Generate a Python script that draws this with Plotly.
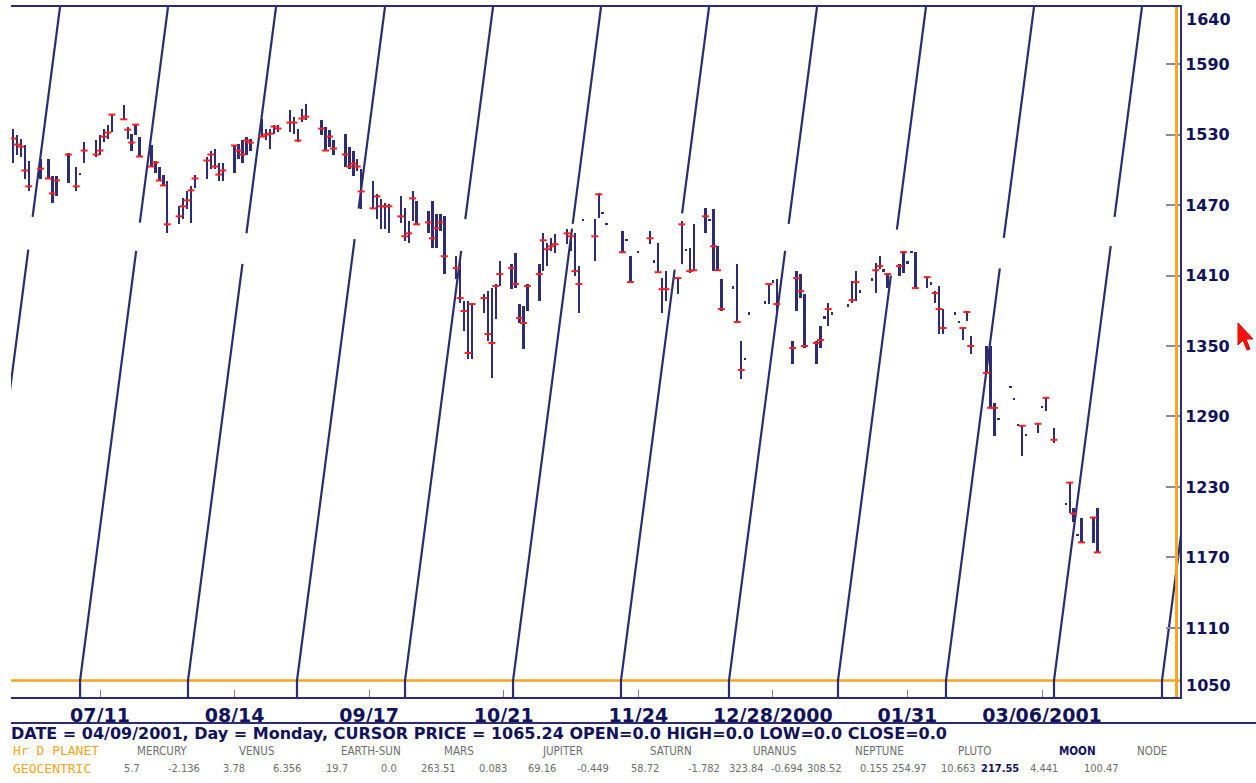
import pandas as pd
import plotly.graph_objects as go

# ---------------- data ----------------
bar_dates = [
    "2000-06-19", "2000-06-20", "2000-06-21", "2000-06-22", "2000-06-23",
    "2000-06-26", "2000-06-28", "2000-06-29", "2000-06-30",
    "2000-07-03", "2000-07-05", "2000-07-06", "2000-07-07",
    "2000-07-10", "2000-07-11", "2000-07-12", "2000-07-13", "2000-07-14",
    "2000-07-17", "2000-07-18", "2000-07-19", "2000-07-20", "2000-07-21",
    "2000-07-24", "2000-07-25", "2000-07-26", "2000-07-27", "2000-07-28",
    "2000-07-31", "2000-08-01", "2000-08-02", "2000-08-03", "2000-08-04",
    "2000-08-07", "2000-08-08", "2000-08-09", "2000-08-10", "2000-08-11",
    "2000-08-14", "2000-08-15", "2000-08-16", "2000-08-17", "2000-08-18",
    "2000-08-21", "2000-08-22", "2000-08-23", "2000-08-24", "2000-08-25",
    "2000-08-28", "2000-08-29", "2000-08-30", "2000-08-31", "2000-09-01",
    "2000-09-05", "2000-09-06", "2000-09-07", "2000-09-08",
    "2000-09-11", "2000-09-12", "2000-09-13", "2000-09-14", "2000-09-15",
    "2000-09-18", "2000-09-19", "2000-09-20", "2000-09-21", "2000-09-22",
    "2000-09-25", "2000-09-26", "2000-09-27", "2000-09-28", "2000-09-29",
    "2000-10-02", "2000-10-03", "2000-10-04", "2000-10-05", "2000-10-06",
    "2000-10-09", "2000-10-10", "2000-10-11", "2000-10-12", "2000-10-13",
    "2000-10-16", "2000-10-17", "2000-10-18", "2000-10-19", "2000-10-20",
    "2000-10-23", "2000-10-24", "2000-10-25", "2000-10-26", "2000-10-27",
    "2000-10-30", "2000-10-31", "2000-11-01", "2000-11-02", "2000-11-03",
    "2000-11-06", "2000-11-07", "2000-11-08", "2000-11-09", "2000-11-10",
    "2000-11-13", "2000-11-14", "2000-11-15", "2000-11-16",
    "2000-11-20", "2000-11-21", "2000-11-22", "2000-11-24",
    "2000-11-27", "2000-11-28", "2000-11-29", "2000-11-30", "2000-12-01",
    "2000-12-04", "2000-12-05", "2000-12-06", "2000-12-07", "2000-12-08",
    "2000-12-11", "2000-12-12", "2000-12-13", "2000-12-14", "2000-12-15",
    "2000-12-18", "2000-12-19", "2000-12-20", "2000-12-21", "2000-12-22",
    "2000-12-26", "2000-12-27", "2000-12-28", "2000-12-29",
    "2001-01-02", "2001-01-03", "2001-01-04", "2001-01-05",
    "2001-01-08", "2001-01-09", "2001-01-10", "2001-01-11", "2001-01-12",
    "2001-01-16", "2001-01-17", "2001-01-18", "2001-01-19",
    "2001-01-22", "2001-01-23", "2001-01-24", "2001-01-25", "2001-01-26",
    "2001-01-29", "2001-01-30", "2001-01-31", "2001-02-01", "2001-02-02",
    "2001-02-05", "2001-02-06", "2001-02-07", "2001-02-08", "2001-02-09",
    "2001-02-12", "2001-02-13", "2001-02-14", "2001-02-15", "2001-02-16",
    "2001-02-20", "2001-02-21", "2001-02-22", "2001-02-23",
    "2001-02-26", "2001-02-27", "2001-02-28", "2001-03-01", "2001-03-02",
    "2001-03-05", "2001-03-06", "2001-03-07", "2001-03-09",
    "2001-03-12", "2001-03-13", "2001-03-14", "2001-03-15", "2001-03-16",
    "2001-03-19", "2001-03-20",
]
bar_high = [
    1535.1, 1530.0, 1526.6, 1521.5, 1507.1,
    1509.6, 1508.8, 1494.4, 1494.4,
    1513.9, 1502.0, 1497.5, 1524.0,
    1525.7, 1530.0, 1535.1, 1538.5, 1547.8,
    1555.5, 1536.8, 1530.8, 1539.3, 1528.3,
    1521.5, 1507.1, 1502.8, 1496.0, 1490.1,
    1468.9, 1475.7, 1481.6, 1485.9, 1496.0,
    1511.3, 1515.6, 1518.1, 1505.4, 1505.4,
    1521.5, 1522.3, 1525.7, 1528.3, 1526.6,
    1543.6, 1535.1, 1535.1, 1538.5, 1538.5,
    1551.2, 1545.3, 1535.1, 1552.1, 1556.3,
    1542.7, 1536.8, 1534.2, 1525.7,
    1530.8, 1519.8, 1515.6, 1509.6, 1501.1,
    1490.1, 1479.1, 1474.8, 1471.4, 1470.6,
    1477.4, 1467.2, 1456.1, 1481.6, 1473.1,
    1464.6, 1473.1, 1462.1, 1462.1, 1460.4,
    1426.4, 1424.7, 1388.2, 1388.2, 1386.5,
    1394.2, 1396.7, 1399.3, 1402.7, 1422.2,
    1419.6, 1429.0, 1385.7, 1384.0, 1402.7,
    1419.6, 1446.0, 1437.5, 1441.7, 1445.1,
    1449.3, 1445.1, 1445.9, 1417.9, 1458.5,
    1457.8, 1479.9, 1464.4, 1455.1,
    1447.7, 1441.5, 1426.4, 1431.3,
    1447.7, 1422.8, 1437.5, 1407.8, 1413.7,
    1407.8, 1456.1, 1433.0, 1433.2, 1453.6,
    1467.2, 1458.5, 1466.3, 1434.9, 1406.9,
    1400.8, 1419.6, 1354.3, 1339.6, 1378.7,
    1388.0, 1402.7, 1405.9, 1406.9,
    1354.3, 1413.7, 1411.2, 1394.2,
    1354.3, 1367.0, 1375.3, 1386.5, 1378.7,
    1385.5, 1405.2, 1413.7, 1397.4,
    1407.6, 1420.5, 1426.4, 1415.2, 1412.0,
    1419.6, 1430.7, 1422.0, 1431.3, 1429.8,
    1409.5, 1404.2, 1396.7, 1401.0, 1381.4,
    1378.7, 1371.1, 1365.3, 1379.8, 1358.5,
    1350.0, 1350.0, 1301.6, 1288.7,
    1315.9, 1305.7, 1283.6, 1282.1, 1275.1,
    1283.8, 1298.9, 1305.9, 1280.4,
    1216.5, 1233.7, 1211.7, 1190.2, 1203.2,
    1204.0, 1212.5,
]
bar_low = [
    1505.4, 1513.0, 1511.3, 1491.8, 1481.6,
    1491.8, 1491.8, 1471.4, 1477.4,
    1488.4, 1481.6, 1496.0, 1505.4,
    1511.3, 1513.0, 1524.0, 1526.6, 1532.5,
    1542.7, 1526.6, 1515.6, 1530.0, 1511.3,
    1502.8, 1496.9, 1490.1, 1485.9, 1446.0,
    1453.6, 1457.8, 1466.3, 1454.4, 1484.2,
    1492.6, 1501.1, 1501.1, 1490.1, 1490.1,
    1497.7, 1509.6, 1505.4, 1513.0, 1515.6,
    1528.3, 1525.7, 1517.3, 1530.8, 1532.5,
    1532.5, 1530.8, 1524.0, 1541.0, 1542.7,
    1530.0, 1515.6, 1519.8, 1513.0,
    1502.8, 1501.1, 1494.4, 1498.6, 1466.3,
    1467.2, 1457.8, 1449.3, 1449.3, 1445.9,
    1454.4, 1439.2, 1437.5, 1456.1, 1453.6,
    1445.9, 1433.2, 1433.2, 1447.7, 1411.2,
    1406.9, 1386.5, 1362.8, 1339.0, 1339.0,
    1378.0, 1354.3, 1322.9, 1372.9, 1401.0,
    1398.4, 1399.3, 1369.6, 1347.5, 1379.8,
    1388.2, 1413.7, 1417.9, 1430.7, 1429.0,
    1436.6, 1430.7, 1409.5, 1378.0, 1457.0,
    1422.2, 1458.7, 1462.9, 1453.6,
    1428.9, 1440.0, 1403.5, 1429.8,
    1436.6, 1421.3, 1412.0, 1378.0, 1388.2,
    1394.2, 1419.6, 1431.5, 1412.0, 1413.7,
    1446.0, 1457.0, 1413.7, 1413.7, 1379.8,
    1399.3, 1369.6, 1322.0, 1338.1, 1377.2,
    1386.5, 1385.7, 1404.4, 1377.2,
    1334.7, 1379.8, 1390.8, 1348.3,
    1334.7, 1348.3, 1373.8, 1367.0, 1377.2,
    1384.0, 1386.5, 1388.2, 1395.9,
    1406.1, 1395.0, 1415.4, 1413.7, 1399.3,
    1409.5, 1412.0, 1420.5, 1429.8, 1399.3,
    1399.3, 1402.7, 1386.5, 1360.2, 1360.2,
    1377.2, 1369.6, 1355.1, 1371.3, 1343.2,
    1327.1, 1297.4, 1273.6, 1287.2,
    1314.4, 1304.2, 1282.1, 1256.6, 1273.6,
    1276.2, 1297.4, 1294.9, 1267.7,
    1215.0, 1208.2, 1199.8, 1188.7, 1181.9,
    1181.9, 1174.3,
]
bar_close = [
    1526.6, 1521.5, 1519.8, 1499.4, 1485.9,
    1501.0, 1492.6, 1479.9, 1490.9,
    1513.0, 1485.9, None, 1516.4,
    1513.0, 1516.4, 1528.3, 1531.7, 1547.0,
    1543.0, 1534.2, 1523.2, 1538.5, 1511.3,
    1502.8, 1506.2, 1490.9, 1486.7, 1453.6,
    1460.4, 1468.9, 1474.0, 1482.5, 1492.6,
    1507.9, 1513.0, 1502.8, 1496.0, 1499.4,
    1520.7, 1516.4, 1513.0, 1524.9, 1523.2,
    1528.3, 1530.0, 1530.8, 1536.8, 1535.1,
    1540.2, 1540.2, 1524.9, 1543.6, 1545.3,
    1535.1, 1516.4, 1528.3, 1518.1,
    1513.0, 1502.8, 1505.4, 1502.8, 1481.6,
    1467.2, 1477.4, 1468.9, 1468.9, 1468.9,
    1460.4, 1443.4, 1445.9, 1475.7, 1453.6,
    1455.3, 1441.7, 1450.2, 1455.3, 1426.4,
    1416.3, 1390.8, 1379.8, 1344.1, 1385.7,
    1390.8, 1360.2, 1352.6, 1401.0, 1411.2,
    1416.3, 1402.7, 1373.8, 1369.6, 1401.0,
    1411.2, 1440.0, 1432.4, 1434.9, 1436.6,
    1445.9, 1443.4, 1413.7, 1402.7, None,
    1443.4, 1479.1, None, None,
    1429.8, None, 1404.4, None,
    1441.7, None, 1412.8, 1398.4, 1398.4,
    1407.8, 1453.6, None, 1413.7, 1414.5,
    1460.4, None, 1434.9, 1414.5, 1381.4,
    None, 1370.4, 1329.6, None, None,
    None, 1402.7, None, 1385.7,
    1348.3, 1407.8, 1396.7, 1350.0,
    1352.6, 1355.1, None, 1381.4, None,
    None, 1389.1, 1404.4, None,
    None, 1414.5, 1418.0, None, 1411.2,
    1418.0, 1429.8, None, None, 1399.3,
    1408.6, None, 1395.0, 1381.4, 1365.3,
    None, None, 1365.3, 1378.9, 1350.0,
    1327.1, 1297.4, 1297.4, None,
    None, None, None, 1282.1, None,
    1283.8, None, 1305.9, 1270.2,
    None, 1233.7, 1207.4, None, 1182.8,
    1204.0, 1174.3,
]

# Moon lines: date where each line meets the cursor price, and where it meets the top
moon_bottom_dates = [
    "2000-06-08 16:00", "2000-07-05 23:00", "2000-08-02 05:30", "2000-08-29 18:30",
    "2000-09-26 01:30", "2000-10-23 08:30", "2000-11-19 15:00", "2000-12-16 22:00",
    "2001-01-13 11:00", "2001-02-09 17:45", "2001-03-09 00:45", "2001-04-05 07:40",
]
moon_top_dates = [
    "2000-06-30 21:20", "2000-07-28 04:20", "2000-08-24 11:20", "2000-09-21 00:00",
    "2000-10-18 07:00", "2000-11-14 14:00", "2000-12-11 21:00", "2001-01-08 03:40",
    "2001-02-04 16:30", "2001-03-03 23:30", "2001-03-31 06:15", "2001-04-27 13:00",
]
moon_gap_low = [1432, 1431, 1420, 1441, 1431, 1450, 1415, 1431, 1410, 1416, 1435, 1435]
moon_gap_high = [1460, 1455, 1446, 1467, 1458, 1454, 1463, 1454, 1449, 1442, 1460, 1460]

price_ticks = [1590, 1530, 1470, 1410, 1350, 1290, 1230, 1170, 1110]
edge_price_labels = ["1640", "1050"]
date_ticks = ["2000-07-11", "2000-08-14", "2000-09-17", "2000-10-21",
              "2000-11-24", "2000-12-28", "2001-01-31", "2001-03-06"]
date_tick_text = ["07/11", "08/14", "09/17", "10/21", "11/24", "12/28/2000", "01/31", "03/06/2001"]

cursor_date = "2001-04-09"
cursor_price = 1065.24
x_range = ["2000-06-18 12:14", "2001-04-09 20:50"]
y_range = [1051.2, 1638.6]

status_text = ("DATE = 04/09/2001, Day = Monday, CURSOR PRICE = 1065.24 "
               "OPEN=0.0 HIGH=0.0 LOW=0.0 CLOSE=0.0")
planet_names = ["MERCURY", "VENUS", "EARTH-SUN", "MARS", "JUPITER", "SATURN",
                "URANUS", "NEPTUNE", "PLUTO", "MOON", "NODE"]
planet_values = ["5.7", "-2.136", "3.78", "6.356", "19.7", "0.0", "263.51", "0.083",
                 "69.16", "-0.449", "58.72", "-1.782", "323.84", "-0.694", "308.52",
                 "0.155", "254.97", "10.663", "217.55", "4.441", "100.47"]

# ---------------- styling / layout positions ----------------
NAVY = "#2c2c6e"
TEXT_NAVY = "#12125a"
RED = "#ff2020"
ORANGE = "#f5a623"
GRAY = "#6e6e6e"
FIG_W, FIG_H = 1256, 783
L, R, T, B = 11, 76, 5, 86
PW, PH = FIG_W - L - R, FIG_H - T - B

def px_x(px):
    return (px - L) / PW

def px_y(py):
    return (FIG_H - B - py) / PH

name_px = [135, 237, 339, 442, 540, 648, 751, 853, 956, 1057, 1135]
value_px = [122, 166, 221, 271, 324, 379, 419, 477, 526, 575, 629, 686, 727, 769,
            805, 858, 890, 939, 979, 1028, 1082]
edge_label_py = [18, 685]

fig = go.Figure()

# moon lines
lx, ly = [], []
for d0, d1, glo, ghi in zip(moon_bottom_dates, moon_top_dates, moon_gap_low, moon_gap_high):
    t0, t1 = pd.Timestamp(d0), pd.Timestamp(d1)
    def at(p, t0=t0, t1=t1):
        return t0 + (t1 - t0) * ((p - cursor_price) / (y_range[1] - cursor_price))
    pts = [(t0, y_range[0]), (t0, cursor_price), (at(glo), glo), None,
           (at(ghi), ghi), (t1, y_range[1]), None]
    for p in pts:
        if p is None:
            lx.append(None); ly.append(None)
        else:
            lx.append(p[0].strftime("%Y-%m-%d %H:%M:%S")); ly.append(p[1])
fig.add_trace(go.Scatter(x=lx, y=ly, mode="lines", line=dict(color=NAVY, width=2.2),
                         hoverinfo="skip", connectgaps=False))

# price bars
heights = [h - l for h, l in zip(bar_high, bar_low)]
fig.add_trace(go.Bar(x=bar_dates, y=heights, base=bar_low,
                     width=[0.6 * 86400000] * len(bar_dates),
                     marker=dict(color=NAVY, line=dict(width=0))))

# close ticks
cd = [d for d, c in zip(bar_dates, bar_close) if c is not None]
cv = [c for c in bar_close if c is not None]
fig.add_trace(go.Scatter(x=cd, y=cv, mode="markers",
                         marker=dict(symbol="line-ew", size=5,
                                     line=dict(color=RED, width=2))))

shapes = [
    dict(type="line", xref="paper", yref="y", x0=0, x1=1, y0=cursor_price, y1=cursor_price,
         line=dict(color=ORANGE, width=2.5), layer="below"),
    dict(type="line", xref="x", yref="paper", x0=cursor_date, x1=cursor_date, y0=0, y1=1,
         line=dict(color=ORANGE, width=3), layer="above"),
    dict(type="line", xref="paper", yref="paper", x0=px_x(11), x1=px_x(1256),
         y0=px_y(723), y1=px_y(723), line=dict(color=NAVY, width=2)),
]
# mouse pointer
tip = (1238, 322)
arrow = [(0, 0), (0, 22), (5, 17), (9, 27), (12, 26), (8, 16), (15, 16)]
path = "M " + " L ".join(f"{px_x(tip[0] + dx):.5f},{px_y(tip[1] + dy):.5f}" for dx, dy in arrow) + " Z"
shapes.append(dict(type="path", xref="paper", yref="paper", path=path,
                   fillcolor="#ff1010", line=dict(color="#e00000", width=1)))

ann = []
for txt, py in zip(edge_price_labels, edge_label_py):
    ann.append(dict(x=px_x(1184), y=px_y(py), xref="paper", yref="paper", xanchor="left",
                    yanchor="middle", text=txt, showarrow=False,
                    font=dict(family="DejaVu Sans", size=16, color=TEXT_NAVY, weight="bold")))
ann.append(dict(x=px_x(9), y=px_y(734), xref="paper", yref="paper", xanchor="left",
                yanchor="middle", text=status_text, showarrow=False,
                font=dict(family="DejaVu Sans", size=16, color=TEXT_NAVY, weight="bold")))
mono = "DejaVu Sans Mono"
cond = "DejaVu Sans Condensed, Liberation Sans Narrow, DejaVu Sans, sans-serif"
ann.append(dict(x=px_x(11), y=px_y(751), xref="paper", yref="paper", xanchor="left",
                yanchor="middle", text="Hr D PLANET", showarrow=False,
                font=dict(family=mono, size=13, color=ORANGE)))
ann.append(dict(x=px_x(11), y=px_y(769), xref="paper", yref="paper", xanchor="left",
                yanchor="middle", text="GEOCENTRIC", showarrow=False,
                font=dict(family=mono, size=13, color=ORANGE)))
for name, px in zip(planet_names, name_px):
    moon = name == "MOON"
    ann.append(dict(x=px_x(px), y=px_y(751), xref="paper", yref="paper", xanchor="left",
                    yanchor="middle", text=name, showarrow=False,
                    font=dict(family=cond, size=11.5, color=TEXT_NAVY if moon else GRAY,
                              weight="bold" if moon else "normal")))
for i, (val, px) in enumerate(zip(planet_values, value_px)):
    moon = i == 18
    ann.append(dict(x=px_x(px), y=px_y(769), xref="paper", yref="paper", xanchor="left",
                    yanchor="middle", text=val, showarrow=False,
                    font=dict(family=cond, size=11, color=TEXT_NAVY if moon else GRAY,
                              weight="bold" if moon else "normal")))

fig.update_layout(
    width=FIG_W, height=FIG_H,
    margin=dict(l=L, r=R, t=T, b=B),
    paper_bgcolor="white", plot_bgcolor="white",
    showlegend=False, bargap=0,
    shapes=shapes, annotations=ann,
    xaxis=dict(type="date", range=x_range, tickvals=date_ticks, ticktext=date_tick_text,
               ticks="inside", ticklen=7, tickwidth=1, tickcolor="#7a7aa0",
               showline=True, mirror=True, linecolor=NAVY, linewidth=2,
               showgrid=False, zeroline=False, tickangle=0,
               tickfont=dict(family="DejaVu Sans", size=19, color=TEXT_NAVY, weight="bold")),
    yaxis=dict(side="right", range=y_range, tickvals=price_ticks,
               ticktext=[str(v) for v in price_ticks],
               ticks="inside", ticklen=14, tickwidth=1.5, tickcolor="#8a8aa8",
               showline=True, linecolor=NAVY, linewidth=2,
               showgrid=False, zeroline=False,
               tickfont=dict(family="DejaVu Sans", size=16, color=TEXT_NAVY, weight="bold")),
)

fig.write_html("out.html", config={"displayModeBar": False},
               post_script="document.body.style.margin='0';document.body.style.overflow='hidden';")
